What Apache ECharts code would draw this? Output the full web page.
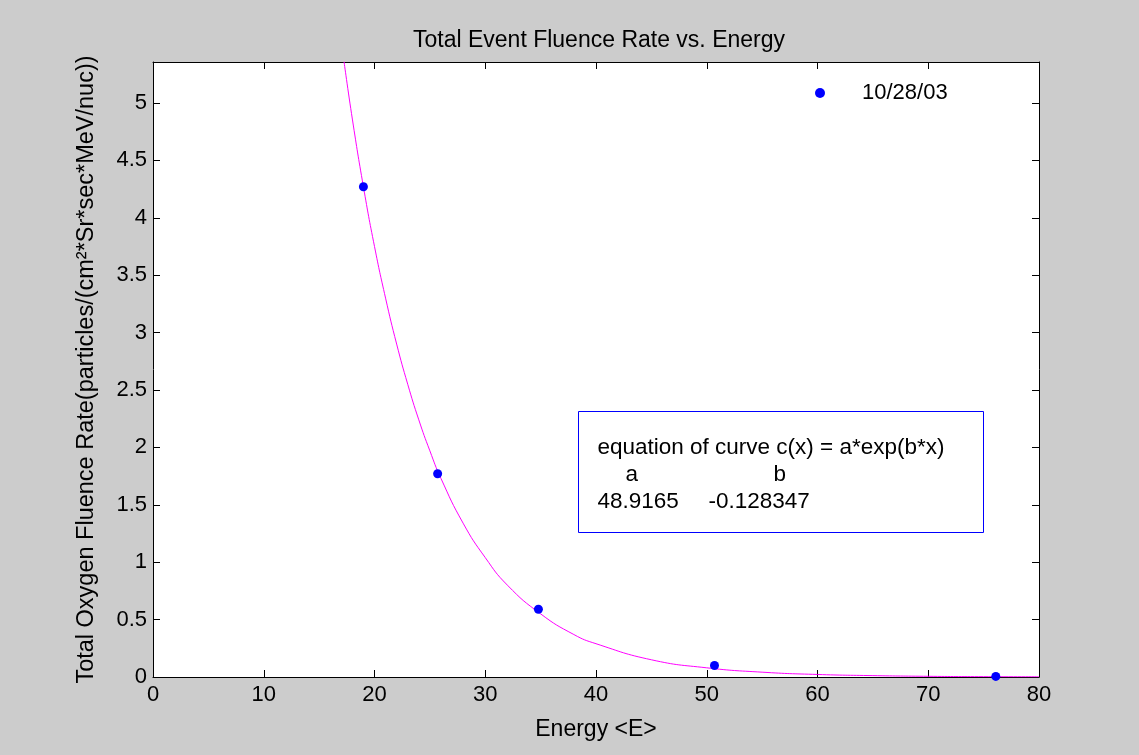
<!DOCTYPE html>
<html>
<head>
<meta charset="utf-8">
<script src="https://cdn.jsdelivr.net/npm/echarts@6/dist/echarts.min.js"></script>
<style>
  html, body { margin: 0; padding: 0; background: #cccccc; }
  #chart { width: 1139px; height: 755px; }
</style>
</head>
<body>
<div id="chart"></div>
<script>
// measured points (energy, fluence rate)
var pointE = [19.0, 25.7, 34.8, 50.7, 76.1];
var pointF = [4.27, 1.77, 0.59, 0.10, 0.005];

// fitted curve
var curveE = [17.25, 18, 19, 20, 21, 22, 23, 24, 25, 26, 28, 30, 32, 35, 38, 40, 45, 50, 55, 60, 65, 70, 75, 80];
var curveF = [5.36, 4.86, 4.27, 3.75, 3.30, 2.90, 2.55, 2.24, 1.97, 1.73, 1.34, 1.04, 0.80, 0.55, 0.37, 0.29, 0.15, 0.080, 0.042, 0.022, 0.012, 0.006, 0.003, 0.002];

var seriesName = '10/28/03';
var fitTitle = 'equation of curve c(x) = a*exp(b*x)';
var fitA = '48.9165';
var fitB = '-0.128347';

var font = '"Liberation Sans", Arial, Helvetica, sans-serif';
var fs = 22;
var chart = echarts.init(document.getElementById('chart'));

var pts = pointE.map(function (e, i) { return [e, pointF[i]]; });
var crv = curveE.map(function (e, i) { return [e, curveF[i]]; });

var xBase = {
    type: 'value', min: 0, max: 80, interval: 10,
    axisLine: { onZero: false, lineStyle: { color: '#000', width: 1 } },
    axisTick: { inside: true, length: 7, lineStyle: { color: '#000' } },
    splitLine: { show: false }
};
var yBase = {
    type: 'value', min: 0, max: 5.357, interval: 0.5,
    axisLine: { onZero: false, lineStyle: { color: '#000', width: 1 } },
    axisTick: { inside: true, length: 7, lineStyle: { color: '#000' } },
    splitLine: { show: false }
};

function txt(x, y, s) {
    return { type: 'text', x: x, y: y,
        style: { text: s, font: '22.5px ' + font, fill: '#000', textVerticalAlign: 'middle', verticalAlign: 'middle' } };
}

var option = {
    backgroundColor: '#cccccc',
    animation: false,
    title: {
        text: 'Total Event Fluence Rate vs. Energy',
        left: 594, top: 24, textAlign: 'center',
        textStyle: { fontFamily: font, fontSize: 23, fontWeight: 'normal', color: '#000' }
    },
    grid: { left: 153, right: 100, top: 62, bottom: 78, show: true, backgroundColor: '#fff', borderWidth: 0 },
    legend: {
        data: [seriesName],
        left: 810, top: 77,
        icon: 'circle', itemWidth: 10, itemHeight: 10,
        textStyle: { fontFamily: font, fontSize: fs, color: '#000', padding: [0, 0, 0, 32] }
    },
    xAxis: [
        Object.assign({}, xBase, {
            position: 'bottom',
            name: 'Energy <E>', nameLocation: 'middle', nameGap: 41,
            nameTextStyle: { fontFamily: font, fontSize: 23, color: '#000' },
            axisLabel: { fontFamily: font, fontSize: fs, color: '#000', margin: 7 }
        }),
        Object.assign({}, xBase, { position: 'top', axisLabel: { show: false } })
    ],
    yAxis: [
        Object.assign({}, yBase, {
            position: 'left',
            name: 'Total Oxygen Fluence Rate(particles/(cm\u00B2*Sr*sec*MeV/nuc))',
            nameLocation: 'middle', nameGap: 54,
            nameTextStyle: { fontFamily: font, fontSize: 23.5, color: '#000' },
            axisLabel: { fontFamily: font, fontSize: fs, color: '#000', margin: 6, showMaxLabel: false,
                formatter: function (v) { return (Math.round(v * 10) / 10).toString(); } }
        }),
        Object.assign({}, yBase, { position: 'right', axisLabel: { show: false } })
    ],
    graphic: [{
        type: 'group', left: 578, top: 411,
        children: [
            { type: 'rect', shape: { x: 0, y: 0, width: 405, height: 121 },
              style: { fill: '#fff', stroke: '#0000ff', lineWidth: 1 } },
            txt(19, 36, fitTitle),
            txt(47, 63, 'a'),
            txt(195, 63, 'b'),
            txt(19, 90, fitA),
            txt(130, 90, fitB)
        ]
    }],
    series: [
        {
            name: 'fit', type: 'line', data: crv, smooth: true, showSymbol: false, clip: true,
            lineStyle: { color: '#ff00ff', width: 1 }, itemStyle: { color: '#ff00ff' }, z: 2
        },
        {
            name: seriesName, type: 'scatter', data: pts, symbol: 'circle', symbolSize: 9,
            itemStyle: { color: '#0000ff', opacity: 1 }, z: 3
        }
    ]
};
chart.setOption(option);
</script>
</body>
</html>
